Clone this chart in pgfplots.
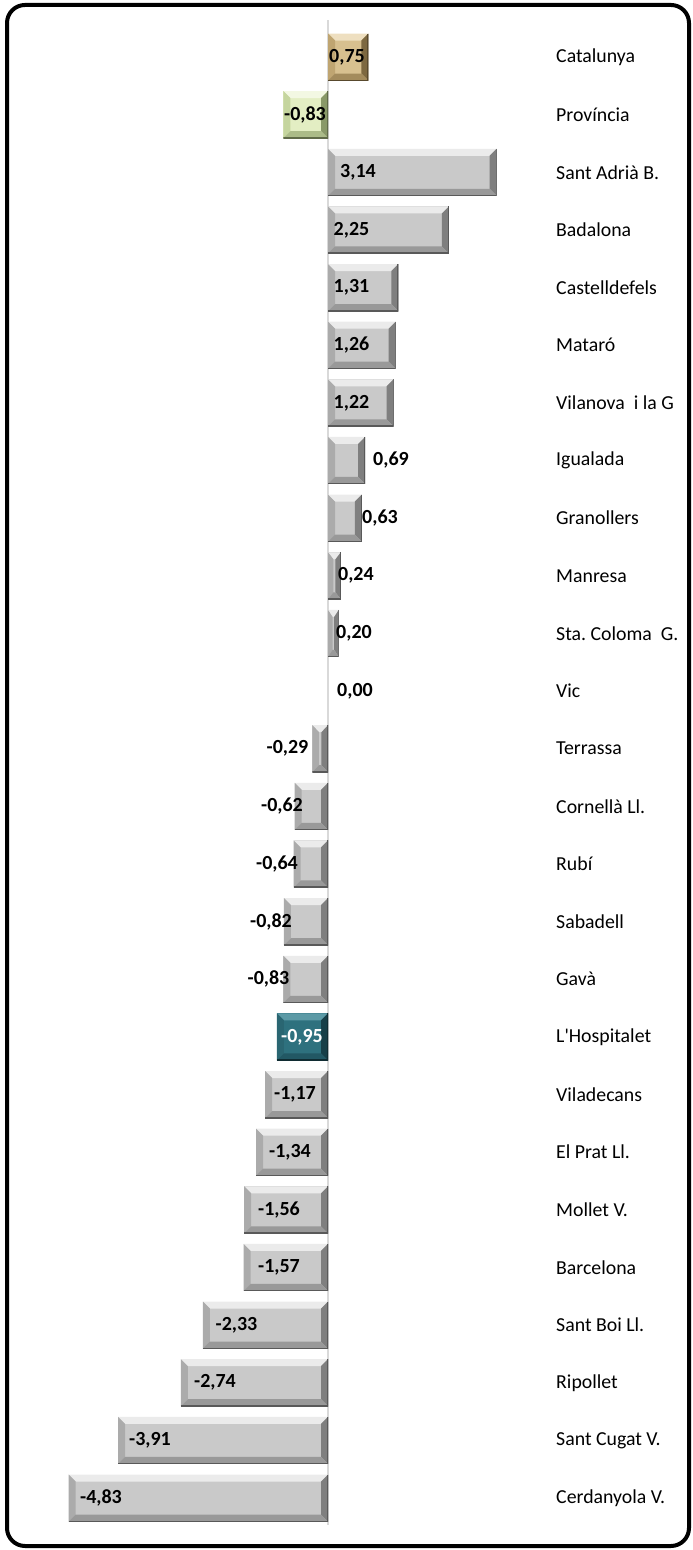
\documentclass[border=0pt]{standalone}
\usepackage{fontspec}
\setmainfont{Carlito}
\usepackage{pgfplots}
\pgfplotsset{compat=1.18}
\usepackage{pgfplotstable}
\usetikzlibrary{calc}
\frenchspacing

\definecolor{gFace}{HTML}{C9C9C9}\definecolor{gTop}{HTML}{EBEBEB}\definecolor{gLeft}{HTML}{ABABAB}\definecolor{gRight}{HTML}{7F7F7F}\definecolor{gBot}{HTML}{999999}
\definecolor{tFace}{HTML}{D7C08F}\definecolor{tTop}{HTML}{EEDFC0}\definecolor{tLeft}{HTML}{BFA571}\definecolor{tRight}{HTML}{7D6840}\definecolor{tBot}{HTML}{A38B5C}
\definecolor{vFace}{HTML}{E3EEC3}\definecolor{vTop}{HTML}{F3F8E3}\definecolor{vLeft}{HTML}{C5D59E}\definecolor{vRight}{HTML}{899968}\definecolor{vBot}{HTML}{ABBB88}
\definecolor{hFace}{HTML}{2E717E}\definecolor{hTop}{HTML}{5C9AA6}\definecolor{hLeft}{HTML}{2A6672}\definecolor{hRight}{HTML}{173F48}\definecolor{hBot}{HTML}{225864}

\newcommand\bevelpic[4]{%
  \pgfpointanchor{path picture bounding box}{south west}\pgfgetlastxy{\bxa}{\bya}%
  \pgfpointanchor{path picture bounding box}{north east}\pgfgetlastxy{\bxb}{\byb}%
  \pgfmathsetlengthmacro\bw{min(7pt,0.42*((\bxb)-(\bxa)))}%
  \pgfmathsetlengthmacro\bh{min(7pt,0.3*((\byb)-(\bya)))}%
  \path[path picture={}, draw=none, fill=#1] (\bxa,\byb) -- (\bxb,\byb) -- (\bxb-\bw,\byb-\bh) -- (\bxa+\bw,\byb-\bh) -- cycle;
  \path[path picture={}, draw=none, fill=#2] (\bxa,\byb) -- (\bxa+\bw,\byb-\bh) -- (\bxa+\bw,\bya+\bh) -- (\bxa,\bya) -- cycle;
  \path[path picture={}, draw=none, fill=#3] (\bxb,\byb) -- (\bxb-\bw,\byb-\bh) -- (\bxb-\bw,\bya+\bh) -- (\bxb,\bya) -- cycle;
  \path[path picture={}, draw=none, fill=#4] (\bxa,\bya) -- (\bxa+\bw,\bya+\bh) -- (\bxb-\bw,\bya+\bh) -- (\bxb,\bya) -- cycle;
  \path[path picture={}, fill=none, draw=#3!70!black, line width=2pt] (\bxb,\byb) -- (\bxb,\bya) -- (\bxa,\bya);
}
\tikzset{bevel/.style n args={5}{fill=#1, draw=none, path picture={\bevelpic{#2}{#3}{#4}{#5}}}}

\pgfplotstableread{
i val lx lab
0 0.75 0.354 0,75
1 -0.83 -0.428 -0,83
2 3.14 0.559 3,14
3 2.25 0.438 2,25
4 1.31 0.438 1,31
5 1.26 0.438 1,26
6 1.22 0.438 1,22
7 0.69 1.173 0,69
8 0.63 0.968 0,63
9 0.24 0.521 0,24
10 0.20 0.484 0,20
11 0.00 0.503 0,00
12 -0.29 -0.754 -0,29
13 -0.62 -0.857 -0,62
14 -0.64 -0.950 -0,64
15 -0.82 -1.061 -0,82
16 -0.83 -1.108 -0,83
17 -0.95 -0.484 -0,95
18 -1.17 -0.615 -1,17
19 -1.34 -0.708 -1,34
20 -1.56 -0.912 -1,56
21 -1.57 -0.912 -1,57
22 -2.33 -1.704 -2,33
23 -2.74 -2.104 -2,74
24 -3.91 -3.315 -3,91
25 -4.83 -4.227 -4,83
}\datatable

\begin{document}
\begin{tikzpicture}[x=1pt,y=1pt]
\begin{axis}[
  x=53.7pt, y=57.64pt, y dir=reverse,
  xmin=-5.9, xmax=4.246, ymin=-0.64, ymax=25.47,
  axis line style={draw=none}, tick style={draw=none},
  xtick={0}, xticklabels={}, xmajorgrids, grid style={color=black!15, line width=2pt},
  ytick={0,...,25},
  yticklabels={{Catalunya},{Província},{Sant Adrià B.},{Badalona},{Castelldefels},{Mataró},{Vilanova\ \ i la G},{Igualada},{Granollers},{Manresa},{Sta. Coloma\ \ G.},{Vic},{Terrassa},{Cornellà Ll.},{Rubí},{Sabadell},{Gavà},{L\textquotesingle Hospitalet},{Viladecans},{El Prat Ll.},{Mollet V.},{Barcelona},{Sant Boi Ll.},{Ripollet},{Sant Cugat V.},{Cerdanyola V.}},
  yticklabel pos=right,
  yticklabel style={anchor=west, inner sep=0pt, font=\fontsize{19.8}{22}\selectfont},
  clip=false,
]
\coordinate (O) at (axis cs:0,0);
\addplot[xbar, bar shift=0pt, bar width=47pt, bevel={tFace}{tTop}{tLeft}{tRight}{tBot}, restrict y to domain=0:0, forget plot] table[x=val,y=i] \datatable;
\addplot[xbar, bar shift=0pt, bar width=47pt, bevel={vFace}{vTop}{vLeft}{vRight}{vBot}, restrict y to domain=1:1, forget plot] table[x=val,y=i] \datatable;
\addplot[xbar, bar shift=0pt, bar width=47pt, bevel={hFace}{hTop}{hLeft}{hRight}{hBot}, restrict y to domain=17:17, forget plot] table[x=val,y=i] \datatable;
\pgfplotsinvokeforeach{2,3,...,10,12,13,...,16,18,19,...,25}{
\addplot[xbar, bar shift=0pt, bar width=47pt, bevel={gFace}{gTop}{gLeft}{gRight}{gBot}, restrict y to domain=#1:#1, forget plot] table[x=val,y=i] \datatable;
}
\addplot[draw=none, mark=none, nodes near coords, point meta=explicit symbolic,
  restrict expr to domain={\thisrow{i}==17 ? 1 : 0}{0:0},
  nodes near coords style={anchor=center, inner sep=0pt, text=black, font=\bfseries\fontsize{20}{22}\selectfont}]
  table[x=lx, y=i, meta=lab] \datatable;
\addplot[draw=none, mark=none, nodes near coords, point meta=explicit symbolic,
  restrict expr to domain={\thisrow{i}==17 ? 1 : 0}{1:1},
  nodes near coords style={anchor=center, inner sep=0pt, text=white, font=\bfseries\fontsize{20}{22}\selectfont}]
  table[x=lx, y=i, meta=lab] \datatable;
\end{axis}
\useasboundingbox ($(O)+(-328,57)$) rectangle ($(O)+(365,-1493)$);
\draw[line width=4pt, rounded corners=18pt] ($(O)+(-321,52)$) rectangle ($(O)+(361,-1489)$);
\end{tikzpicture}
\end{document}
